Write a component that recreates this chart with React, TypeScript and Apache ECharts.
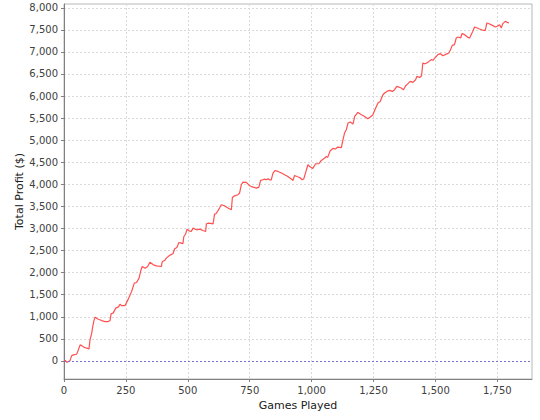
import React, { useEffect, useRef } from 'react';
import * as echarts from 'echarts';

const games = [
  0, 5, 12, 20, 24, 31, 38, 51, 58, 65, 71, 78, 92, 101, 105, 112, 116, 120, 125, 139,
  152, 166, 179, 186, 190, 199, 209, 220, 226, 233, 246, 260, 273, 284, 293, 303, 311, 316, 327, 338,
  347, 361, 373, 393, 397, 407, 413, 430, 440, 447, 456, 464, 474, 480, 484, 491, 497, 505, 514, 521,
  535, 548, 561, 572, 575, 585, 602, 608, 615, 628, 635, 648, 662, 676, 680, 689, 702, 709, 716, 723,
  736, 750, 763, 777, 787, 794, 803, 810, 817, 824, 830, 837, 844, 853, 864, 878, 891, 904, 918, 925,
  931, 941, 952, 962, 968, 976, 985, 992, 1005, 1016, 1029, 1039, 1053, 1059, 1065, 1075, 1086, 1096, 1106, 1120,
  1126, 1133, 1140, 1147, 1156, 1167, 1174, 1187, 1201, 1214, 1227, 1237, 1247, 1257, 1268, 1277, 1288, 1295, 1304, 1315,
  1326, 1335, 1344, 1362, 1371, 1380, 1389, 1398, 1409, 1420, 1425, 1436, 1444, 1449, 1456, 1465, 1474, 1483, 1490, 1501,
  1510, 1520, 1530, 1544, 1554, 1561, 1568, 1577, 1584, 1591, 1602, 1607, 1618, 1631, 1638, 1651, 1658, 1669, 1678, 1692,
  1701, 1708, 1719, 1732, 1742, 1750, 1759, 1766, 1772, 1782, 1790, 1797,
];

const profit = [
  0, 10, -30, -10, 0, 120, 136, 150, 250, 363, 347, 318, 288, 272, 476, 628, 778, 891, 990, 945,
  914, 891, 891, 914, 1065, 1088, 1195, 1224, 1285, 1250, 1250, 1405, 1571, 1761, 1775, 1875, 2063, 2138, 2101, 2138,
  2237, 2176, 2154, 2138, 2251, 2274, 2328, 2403, 2426, 2539, 2569, 2682, 2668, 2652, 2818, 2872, 2986, 2947, 2931, 3008,
  2970, 2986, 2954, 2931, 3106, 3120, 3106, 3326, 3340, 3462, 3537, 3514, 3462, 3423, 3700, 3740, 3763, 3801, 3990, 4051,
  4043, 3967, 3937, 3915, 3937, 4088, 4103, 4119, 4103, 4126, 4103, 4103, 4255, 4314, 4292, 4255, 4217, 4178, 4119, 4088,
  4201, 4178, 4155, 4103, 4119, 4270, 4443, 4405, 4360, 4466, 4466, 4541, 4595, 4632, 4610, 4761, 4813, 4800, 4844, 4830,
  4994, 5162, 5237, 5388, 5411, 5366, 5538, 5629, 5577, 5538, 5486, 5525, 5570, 5706, 5842, 5878, 6030, 6069, 6105, 6128,
  6105, 6144, 6218, 6181, 6144, 6234, 6280, 6332, 6310, 6370, 6445, 6420, 6461, 6749, 6730, 6749, 6785, 6824, 6810, 6885,
  6937, 6960, 6914, 6950, 6975, 7050, 7148, 7164, 7315, 7338, 7315, 7413, 7390, 7330, 7315, 7466, 7565, 7542, 7520, 7489,
  7489, 7655, 7633, 7595, 7565, 7580, 7617, 7542, 7640, 7692, 7670, 7655,
];

const yTicks = [0, 500, 1000, 1500, 2000, 2500, 3000, 3500, 4000, 4500, 5000, 5500, 6000, 6500, 7000, 7500, 8000];

export default function App() {
  const ref = useRef<HTMLDivElement>(null);
  useEffect(() => {
    const chart = echarts.init(ref.current as HTMLDivElement, null, { renderer: 'svg' });
    const fmt = (v: number) => v.toLocaleString('en-US');
    const labelStyle = { color: '#404040', fontSize: 10, fontFamily: 'DejaVu Sans' };
    chart.setOption({
      animation: false,
      backgroundColor: '#ffffff',
      textStyle: { fontFamily: 'DejaVu Sans' },
      grid: { left: 64, right: 8, top: 4, bottom: 41, show: true, borderColor: '#b8b8b8', borderWidth: 1 },
      xAxis: {
        type: 'value',
        min: 0,
        max: 1890,
        interval: 250,
        name: 'Games Played',
        nameLocation: 'middle',
        nameGap: 21,
        nameMoveOverlap: false,
        nameTextStyle: { color: '#202020', fontSize: 11, fontFamily: 'DejaVu Sans', verticalAlign: 'top' },
        axisLine: { show: true, onZero: false, lineStyle: { color: '#808080', width: 1 } },
        axisTick: { show: true, length: 3, lineStyle: { color: '#808080' } },
        axisLabel: {
          ...labelStyle,
          margin: 6,
          showMaxLabel: false,
          formatter: (v: number) => (v % 250 === 0 ? fmt(v) : ''),
        },
        splitLine: { show: true, lineStyle: { color: '#dadada', type: [2, 2], width: 1 } },
      },
      yAxis: {
        type: 'value',
        min: -410,
        max: 8085,
        name: 'Total Profit ($)',
        nameLocation: 'middle',
        nameGap: 39,
        nameMoveOverlap: false,
        nameTextStyle: { color: '#202020', fontSize: 11, fontFamily: 'DejaVu Sans' },
        axisLine: { show: true, onZero: false, lineStyle: { color: '#808080', width: 1 } },
        axisTick: { show: true, length: 3, customValues: yTicks, lineStyle: { color: '#808080' } },
        axisLabel: { ...labelStyle, margin: 6, customValues: yTicks, formatter: (v: number) => fmt(v) },
        splitLine: { show: true, lineStyle: { color: '#dadada', type: [2, 2], width: 1 } },
      },
      series: [
        {
          type: 'line',
          data: games.map((g, i) => [g, profit[i]]),
          symbol: 'none',
          lineStyle: { color: '#ff5050', width: 1.2 },
          markLine: {
            silent: true,
            symbol: 'none',
            label: { show: false },
            lineStyle: { color: '#7373d0', type: [2, 2], width: 1 },
            data: [{ yAxis: 0 }],
          },
        },
      ],
    });
    return () => chart.dispose();
  }, []);
  return <div ref={ref} style={{ width: 540, height: 420, position: 'absolute', left: 0, top: 0 }} />;
}
